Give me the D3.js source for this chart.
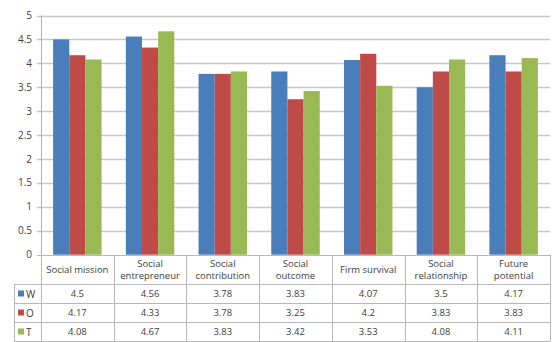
<!DOCTYPE html>
<html lang="en">
<head>
  <meta charset="UTF-8">
  <title>Social scores by group</title>
  <script src="https://d3js.org/d3.v7.min.js"></script>
  <style>
    body { margin: 0; background: #fff; }
    text { font-family: "Open Sans", "Liberation Sans", sans-serif; fill: #404040; }
  </style>
</head>
<body>
<div id="chart"></div>
<script>
  // categories (two lines each, as in the data table header)
  const categories = [
    ["Social mission"],
    ["Social", "entrepreneur"],
    ["Social", "contribution"],
    ["Social", "outcome"],
    ["Firm survival"],
    ["Social", "relationship"],
    ["Future", "potential"]
  ];
  const seriesNames = ["W", "O", "T"];
  const valuesW = [4.5, 4.56, 3.78, 3.83, 4.07, 3.5, 4.17];
  const valuesO = [4.17, 4.33, 3.78, 3.25, 4.2, 3.83, 3.83];
  const valuesT = [4.08, 4.67, 3.83, 3.42, 3.53, 4.08, 4.11];
  const yTicks = [0, 0.5, 1, 1.5, 2, 2.5, 3, 3.5, 4, 4.5, 5];

  const width = 553, height = 342;
  const colors = ["#4a7ebb", "#be4b48", "#98b954"];
  const series = [valuesW, valuesO, valuesT];

  const svg = d3.select("#chart").append("svg")
      .attr("width", width)
      .attr("height", height);

  const plotLeft = 41, plotRight = 550, plotTop = 15.5, base = 254.7;
  const tableLeft = 14;
  const rowEdges = [base, 284, 303, 322, 341];

  const x = d3.scaleBand()
      .domain(d3.range(categories.length))
      .range([plotLeft, plotRight]);

  const xInner = d3.scaleBand()
      .domain(seriesNames)
      .range([0, x.bandwidth()])
      .paddingOuter(0.75)
      .paddingInner(0);

  const y = d3.scaleLinear().domain([0, 5]).range([base, plotTop]);

  // gridlines
  svg.append("g")
    .selectAll("line")
    .data(yTicks.slice(1))
    .join("line")
      .attr("x1", plotLeft - 4)
      .attr("x2", plotRight)
      .attr("y1", d => Math.round(y(d)) + 0.5)
      .attr("y2", d => Math.round(y(d)) + 0.5)
      .attr("stroke", "#c8c8c8")
      .attr("stroke-width", 1.3);

  // y labels
  svg.append("g")
    .selectAll("text")
    .data(yTicks)
    .join("text")
      .attr("x", 32)
      .attr("y", d => y(d) + 3.5)
      .attr("text-anchor", "end")
      .style("font-size", "10px")
      .text(d => d);

  // bars
  const groups = svg.append("g")
    .selectAll("g")
    .data(categories.map((c, i) => i))
    .join("g")
      .attr("transform", i => `translate(${x(i)},0)`);

  groups.selectAll("rect")
    .data(i => series.map((s, k) => ({ name: seriesNames[k], value: s[i], k })))
    .join("rect")
      .attr("x", d => xInner(d.name))
      .attr("width", xInner.bandwidth())
      .attr("y", d => y(d.value))
      .attr("height", d => base - y(d.value))
      .attr("fill", d => colors[d.k]);

  // value axis line
  svg.append("line")
    .attr("x1", plotLeft + 0.5).attr("x2", plotLeft + 0.5)
    .attr("y1", plotTop).attr("y2", base)
    .attr("stroke", "#b0b0b0");

  // data table
  const table = svg.append("g");
  table.selectAll("line.h")
    .data(rowEdges)
    .join("line")
      .attr("class", "h")
      .attr("x1", (d, i) => i === 0 ? plotLeft - 4 : tableLeft)
      .attr("x2", plotRight)
      .attr("y1", d => Math.round(d) + 0.5)
      .attr("y2", d => Math.round(d) + 0.5)
      .attr("stroke", "#b8b8b8");
  table.selectAll("line.v")
    .data(d3.range(categories.length + 1))
    .join("line")
      .attr("class", "v")
      .attr("x1", i => Math.round(i < categories.length ? x(i) : plotRight) + 0.5)
      .attr("x2", i => Math.round(i < categories.length ? x(i) : plotRight) + 0.5)
      .attr("y1", base)
      .attr("y2", rowEdges[4])
      .attr("stroke", "#b8b8b8");
  table.append("line")
    .attr("x1", tableLeft + 0.5).attr("x2", tableLeft + 0.5)
    .attr("y1", rowEdges[1]).attr("y2", rowEdges[4])
    .attr("stroke", "#b8b8b8");

  // header labels
  categories.forEach((lines, i) => {
    const cx = x(i) + x.bandwidth() / 2;
    const mid = (rowEdges[0] + rowEdges[1]) / 2;
    const t = table.append("text")
      .attr("text-anchor", "middle")
      .style("font-size", "9.5px");
    lines.forEach((l, j) => {
      t.append("tspan")
        .attr("x", cx)
        .attr("y", mid + 3.5 + (j - (lines.length - 1) / 2) * 12)
        .text(l);
    });
  });

  // data rows with legend keys
  series.forEach((s, k) => {
    const rowMid = (rowEdges[k + 1] + rowEdges[k + 2]) / 2;
    table.append("rect")
      .attr("x", 18).attr("y", rowMid - 3)
      .attr("width", 6).attr("height", 6)
      .attr("fill", colors[k]);
    table.append("text")
      .attr("x", 26).attr("y", rowMid + 4)
      .style("font-size", "10px")
      .text(seriesNames[k]);
    table.append("g")
      .selectAll("text")
      .data(s)
      .join("text")
        .attr("x", (d, i) => x(i) + x.bandwidth() / 2)
        .attr("y", rowMid + 3.5)
        .attr("text-anchor", "middle")
        .style("font-size", "9.5px")
        .text(d => d);
  });
</script>
</body>
</html>
